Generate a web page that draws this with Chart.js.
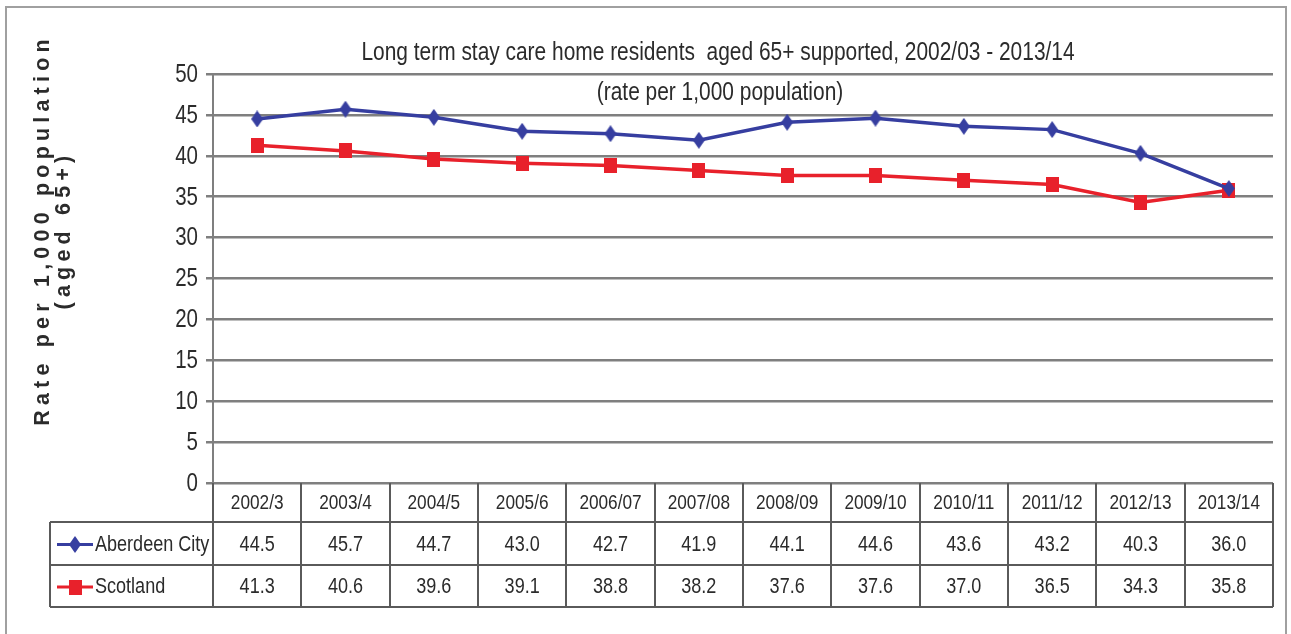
<!DOCTYPE html>
<html>
<head>
<meta charset="utf-8">
<title>Long term stay care home residents aged 65+</title>
<script src="https://cdn.jsdelivr.net/npm/chart.js@4.4.1/dist/chart.umd.min.js"></script>
<style>
  html, body { margin: 0; padding: 0; background: #fff; }
  #wrap { position: relative; width: 1291px; height: 634px; }
</style>
</head>
<body>
<div id="wrap"><canvas id="careChart" width="1291" height="634"></canvas></div>
<script>
const years = ['2002/3', '2003/4', '2004/5', '2005/6', '2006/07', '2007/08', '2008/09', '2009/10', '2010/11', '2011/12', '2012/13', '2013/14'];
const aberdeenCity = [44.5, 45.7, 44.7, 43.0, 42.7, 41.9, 44.1, 44.6, 43.6, 43.2, 40.3, 36.0];
const scotland = [41.3, 40.6, 39.6, 39.1, 38.8, 38.2, 37.6, 37.6, 37.0, 36.5, 34.3, 35.8];
const yTicks = [0, 5, 10, 15, 20, 25, 30, 35, 40, 45, 50];

const titleLines = ['Long term stay care home residents  aged 65+ supported, 2002/03 - 2013/14', '(rate per 1,000 population)'];
const yTitleLines = ['Rate per 1,000 population', '(aged 65+)'];

const SANS = "'Liberation Sans', Arial, sans-serif";
const NARROW_X = 0.82;   // squeeze Liberation Sans into a narrow face
const TEXT = '#2b2b2b';
const GRID = '#7f7f7f';
const TABLE_LINE = '#5a5a5a';
const BLUE = '#363ea0';
const RED = '#e8212b';

// marker bitmaps: tall diamond for Aberdeen, square for Scotland
function makeDiamond(w, h, color) {
    const c = document.createElement('canvas');
    c.width = w; c.height = h;
    const g = c.getContext('2d');
    g.fillStyle = color;
    g.beginPath();
    g.moveTo(w / 2, 0);
    g.lineTo(w, h / 2);
    g.lineTo(w / 2, h);
    g.lineTo(0, h / 2);
    g.closePath();
    g.fill();
    return c;
}
function makeSquare(w, h, color) {
    const c = document.createElement('canvas');
    c.width = w; c.height = h;
    const g = c.getContext('2d');
    g.fillStyle = color;
    g.fillRect(0, 0, w, h);
    return c;
}
const diamondMark = makeDiamond(12, 17, BLUE);
const squareMark = makeSquare(13, 15, RED);

const seriesInfo = [
    { name: 'Aberdeen City', values: aberdeenCity, color: BLUE, mark: diamondMark },
    { name: 'Scotland', values: scotland, color: RED, mark: squareMark }
];

// table rows under the plot
const headerBottom = 522;
const rowBottoms = [565, 607];
const legendLeft = 50;

function narrowText(ctx, text, x, y, size, align) {
    ctx.save();
    ctx.translate(x, y);
    ctx.scale(NARROW_X, 1);
    ctx.font = size + 'px ' + SANS;
    ctx.textAlign = align || 'center';
    ctx.textBaseline = 'middle';
    ctx.fillText(text, 0, 0);
    ctx.restore();
}

const decorPlugin = {
    id: 'decor',
    beforeDraw(chart) {
        const ctx = chart.ctx;
        ctx.save();
        ctx.fillStyle = '#fff';
        ctx.fillRect(0, 0, chart.width, chart.height);
        ctx.strokeStyle = '#a0a0a0';
        ctx.lineWidth = 2;
        ctx.strokeRect(6, 7, 1280, 640);
        ctx.restore();
    },
    afterDraw(chart) {
        const ctx = chart.ctx;
        const area = chart.chartArea;
        const x = chart.scales.x;
        const y = chart.scales.y;
        const colW = (area.right - area.left) / years.length;
        const top = area.bottom;

        ctx.save();
        ctx.fillStyle = TEXT;

        // title
        narrowText(ctx, titleLines[0], 718, 53, 25.5);
        narrowText(ctx, titleLines[1], 720, 93, 25.5);

        // y tick labels
        y.ticks.forEach(t => {
            narrowText(ctx, String(t.value), 198, y.getPixelForValue(t.value) + 1, 25, 'right');
        });

        // rotated axis title
        ctx.save();
        ctx.translate(43, 230);
        ctx.rotate(-Math.PI / 2);
        ctx.textAlign = 'center';
        ctx.textBaseline = 'middle';
        ctx.font = 'bold 21.5px ' + SANS;
        ctx.letterSpacing = '5.2px';
        ctx.fillText(yTitleLines[0], 0, 0);
        ctx.fillText(yTitleLines[1], 0, 21);
        ctx.restore();

        // table grid
        ctx.strokeStyle = TABLE_LINE;
        ctx.lineWidth = 2;
        ctx.beginPath();
        for (let i = 0; i <= years.length; i++) {
            const lx = Math.round(area.left + i * colW);
            ctx.moveTo(lx, top);
            ctx.lineTo(lx, rowBottoms[1]);
        }
        ctx.moveTo(legendLeft, headerBottom);
        ctx.lineTo(legendLeft, rowBottoms[1]);
        [headerBottom].concat(rowBottoms).forEach(ly => {
            ctx.moveTo(legendLeft, ly);
            ctx.lineTo(area.right, ly);
        });
        ctx.stroke();

        // header labels
        years.forEach((yr, i) => {
            narrowText(ctx, yr, x.getPixelForValue(i), (top + headerBottom) / 2 + 1, 21);
        });

        // value rows with legend keys
        const rowTops = [headerBottom, rowBottoms[0]];
        seriesInfo.forEach((s, r) => {
            const cy = (rowTops[r] + rowBottoms[r]) / 2 + 1;
            s.values.forEach((v, i) => {
                narrowText(ctx, v.toFixed(1), x.getPixelForValue(i), cy, 22);
            });
            ctx.strokeStyle = s.color;
            ctx.lineWidth = 3;
            ctx.beginPath();
            ctx.moveTo(57, cy);
            ctx.lineTo(93, cy);
            ctx.stroke();
            ctx.drawImage(s.mark, 75 - s.mark.width / 2, cy - s.mark.height / 2);
            narrowText(ctx, s.name, 95, cy, 22, 'left');
        });
        ctx.restore();
    }
};

new Chart(document.getElementById('careChart'), {
    type: 'line',
    data: {
        labels: years,
        datasets: seriesInfo.map(s => ({
            label: s.name,
            data: s.values,
            borderColor: s.color,
            backgroundColor: s.color,
            borderWidth: 3.5,
            pointStyle: s.mark,
            pointRadius: 8,
            pointHoverRadius: 8,
            tension: 0
        }))
    },
    options: {
        responsive: false,
        animation: false,
        layout: { padding: { top: 74, right: 18, bottom: 151, left: 0 } },
        plugins: {
            legend: { display: false },
            title: { display: false },
            tooltip: { enabled: false }
        },
        scales: {
            x: { display: false, offset: true },
            y: {
                min: 0,
                max: 50,
                afterFit(scale) { scale.width = 213; },
                afterBuildTicks(scale) { scale.ticks = yTicks.map(v => ({ value: v })); },
                ticks: { display: false },
                grid: {
                    color: GRID,
                    lineWidth: 2.5,
                    drawTicks: true,
                    tickLength: 7,
                    tickColor: GRID
                },
                border: { display: true, color: GRID, width: 2 }
            }
        }
    },
    plugins: [decorPlugin]
});
</script>
</body>
</html>
